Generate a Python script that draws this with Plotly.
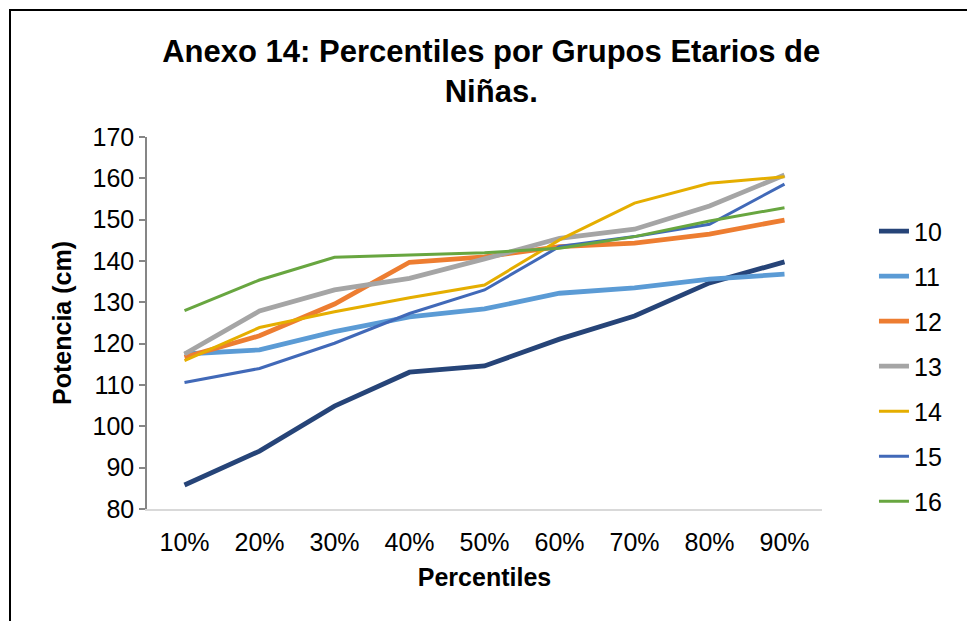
import plotly.graph_objects as go

# Percentile categories on the x axis
percentiles = ["10%", "20%", "30%", "40%", "50%", "60%", "70%", "80%", "90%"]

# Height (cm) by age group for each percentile
edad_10 = [85.8, 94.0, 104.9, 113.1, 114.6, 121.1, 126.7, 134.7, 139.8]
edad_11 = [117.5, 118.5, 122.9, 126.5, 128.4, 132.2, 133.5, 135.6, 136.8]
edad_12 = [116.7, 121.9, 129.6, 139.7, 141.0, 143.5, 144.3, 146.5, 149.9]
edad_13 = [117.5, 127.9, 133.0, 135.8, 140.5, 145.5, 147.7, 153.3, 160.8]
edad_14 = [115.9, 123.9, 127.7, 131.1, 134.2, 145.1, 154.0, 158.8, 160.4]
edad_15 = [110.6, 114.0, 120.1, 127.3, 133.0, 143.5, 145.9, 148.9, 158.6]
edad_16 = [128.0, 135.4, 140.9, 141.5, 142.0, 143.1, 145.9, 149.7, 152.9]

series_names = ["10", "11", "12", "13", "14", "15", "16"]
series_values = [edad_10, edad_11, edad_12, edad_13, edad_14, edad_15, edad_16]
series_colors = ["#264478", "#5B9BD5", "#ED7D31", "#A5A5A5", "#E5AE00", "#4169B8", "#68A640"]
series_widths = [4.8, 4.8, 4.8, 4.8, 3.0, 3.0, 3.0]

y_ticks = list(range(80, 171, 10))

fig = go.Figure()
for name, vals, color, w in zip(series_names, series_values, series_colors, series_widths):
    fig.add_trace(go.Scatter(
        x=percentiles, y=vals, name=name, mode="lines",
        legendgroup=name,
        line=dict(color=color, width=w),
    ))

font_family = "Liberation Sans, Arial, sans-serif"

fig.update_layout(
    width=967, height=621,
    margin=dict(l=147, r=145, t=137, b=112),
    paper_bgcolor="white", plot_bgcolor="white",
    font=dict(family=font_family, size=25, color="black"),
    title=dict(
        text="<b>Anexo 14: Percentiles por Grupos Etarios de<br>Niñas.</b>",
        x=0.508, xanchor="center", y=0.90, yanchor="top",
        font=dict(family=font_family, size=31, color="black"),
    ),
    xaxis=dict(
        type="category", range=[-0.5, 8.5],
        showline=True, linecolor="#D9D9D9", linewidth=1.5,
        ticks="", showgrid=False, zeroline=False,
        tickfont=dict(size=25), ticklabelstandoff=10,
        title=dict(text="<b>Percentiles</b>", font=dict(size=25), standoff=14),
    ),
    yaxis=dict(
        range=[80, 170], tickvals=y_ticks,
        showline=True, linecolor="#868686", linewidth=1.5,
        ticks="outside", ticklen=6, tickcolor="#868686", tickwidth=1.5,
        showgrid=False, zeroline=False,
        tickfont=dict(size=25),
        title=dict(text="<b>Potencia (cm)</b>", font=dict(size=25), standoff=14),
    ),
    legend=dict(
        x=1.077, xanchor="left", y=0.808, yanchor="top",
        font=dict(size=25), tracegroupgap=9.5,
        bgcolor="rgba(0,0,0,0)", itemwidth=30,
    ),
    showlegend=True,
    shapes=[dict(
        type="rect", xref="paper", yref="paper",
        x0=(10 - 147) / 675, x1=(975 - 147) / 675,
        y0=(509 - 630) / 372, y1=1 + (137 - 10) / 372,
        line=dict(color="black", width=2), fillcolor="rgba(0,0,0,0)",
        layer="below",
    )],
)

fig.write_html("out.html")
